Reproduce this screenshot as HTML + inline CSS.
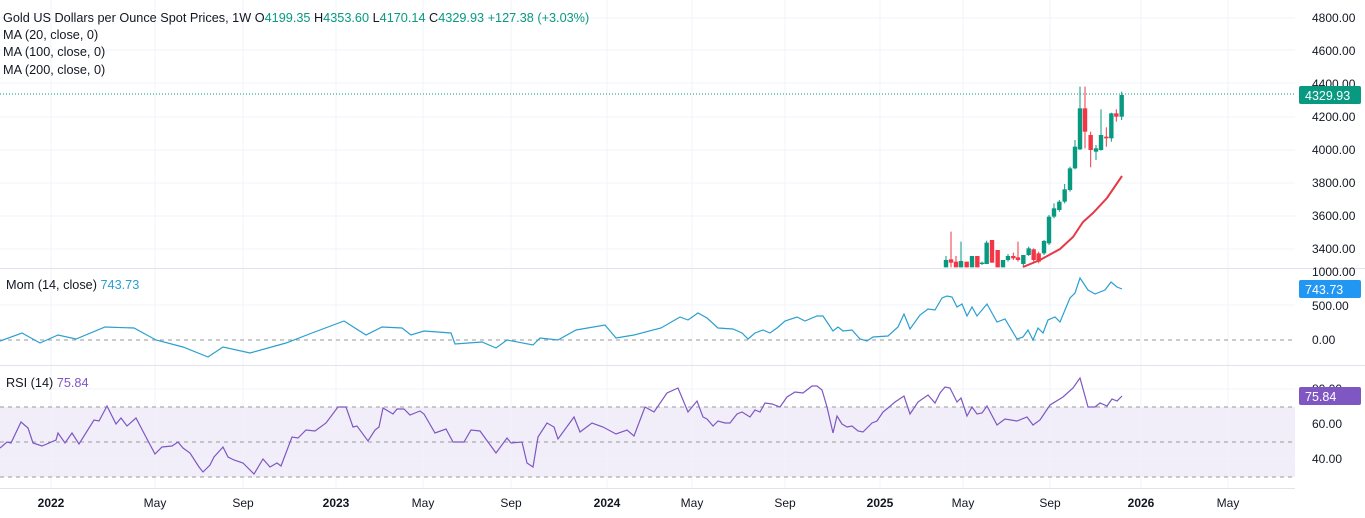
<!DOCTYPE html>
<html><head><meta charset="utf-8"><style>
body{margin:0;background:#fff;font-family:"Liberation Sans",sans-serif;}
#c{position:relative;width:1365px;height:518px;overflow:hidden;}
svg{position:absolute;left:0;top:0}
</style></head><body><div id="c">
<svg id="s" width="1365" height="518" xmlns="http://www.w3.org/2000/svg" font-family="Liberation Sans, sans-serif">
<rect x="0" y="407" width="1295" height="70" fill="#7e57c2" fill-opacity="0.1"/>
<g id="grid" stroke="#f0f3fa" stroke-width="1"></g>
<line x1="0" y1="268.5" x2="1365" y2="268.5" stroke="#e0e3eb"/>
<line x1="0" y1="365.5" x2="1365" y2="365.5" stroke="#e0e3eb"/>
<line x1="0" y1="488.5" x2="1295" y2="488.5" stroke="#e0e3eb"/>
<line x1="0" y1="94" x2="1295" y2="94" stroke="#089981" stroke-dasharray="1,2"/>
<line x1="0" y1="340" x2="1295" y2="340" stroke="#999" stroke-dasharray="4,4"/>
<line x1="0" y1="407" x2="1295" y2="407" stroke="#999" stroke-dasharray="4,4"/>
<line x1="0" y1="442" x2="1295" y2="442" stroke="#999" stroke-dasharray="4,4"/>
<line x1="0" y1="477" x2="1295" y2="477" stroke="#999" stroke-dasharray="4,4"/>
<g id="cand"></g>
<polyline fill="none" stroke="#e53945" stroke-width="2" points="1023,267 1040,260 1060,249 1073,237 1083,222 1093,213 1107,198 1122,176"/>
<polyline id="mom" fill="none" stroke="#2a9fd0" stroke-width="1.2"/>
<polyline id="rsi" fill="none" stroke="#7e57c2" stroke-width="1.2"/>
<g font-size="12" fill="#131722" text-anchor="start">
<text x="1312" y="22">4800.00</text><text x="1312" y="55">4600.00</text><text x="1312" y="88">4400.00</text>
<text x="1312" y="121">4200.00</text><text x="1312" y="154">4000.00</text><text x="1312" y="187">3800.00</text>
<text x="1312" y="220">3600.00</text><text x="1312" y="253">3400.00</text>
<text x="1312" y="276">1000.00</text><text x="1312" y="310">500.00</text><text x="1312" y="344">0.00</text>
<text x="1312" y="393">80.00</text><text x="1312" y="428">60.00</text><text x="1312" y="463">40.00</text>
</g>
<rect x="1299" y="86" width="62" height="18" rx="2" fill="#089981"/>
<text x="1305" y="100" font-size="12.5" fill="#fff">4329.93</text>
<rect x="1299" y="280" width="62" height="18" rx="2" fill="#2196f3"/>
<text x="1305" y="294" font-size="12.5" fill="#fff">743.73</text>
<rect x="1299" y="387" width="62" height="18" rx="2" fill="#7e57c2"/>
<text x="1305" y="401" font-size="12.5" fill="#fff">75.84</text>
<g font-size="12" fill="#131722" text-anchor="middle">
<text x="51" y="507" font-weight="bold">2022</text><text x="155" y="507">May</text><text x="243" y="507">Sep</text>
<text x="336" y="507" font-weight="bold">2023</text><text x="423" y="507">May</text><text x="511" y="507">Sep</text>
<text x="607" y="507" font-weight="bold">2024</text><text x="692" y="507">May</text><text x="785" y="507">Sep</text>
<text x="880" y="507" font-weight="bold">2025</text><text x="963" y="507">May</text><text x="1050" y="507">Sep</text>
<text x="1141" y="507" font-weight="bold">2026</text><text x="1228" y="507">May</text>
</g>
<g font-size="12.7" fill="#131722">
<text x="3" y="22">Gold US Dollars per Ounce Spot Prices, 1W <tspan fill="#131722">O</tspan><tspan fill="#089981">4199.35</tspan> H<tspan fill="#089981">4353.60</tspan> L<tspan fill="#089981">4170.14</tspan> C<tspan fill="#089981">4329.93</tspan> <tspan fill="#089981">+127.38 (+3.03%)</tspan></text>
<text x="3" y="39">MA (20, close, 0)</text>
<text x="3" y="56">MA (100, close, 0)</text>
<text x="3" y="74">MA (200, close, 0)</text>
<text x="6" y="289">Mom (14, close) <tspan fill="#2a9fd0">743.73</tspan></text>
<text x="6" y="387">RSI (14) <tspan fill="#7e57c2">75.84</tspan></text>
</g>
</svg>
<script>
var NS="http://www.w3.org/2000/svg";
function el(t,a,p){var e=document.createElementNS(NS,t);for(var k in a)e.setAttribute(k,a[k]);p.appendChild(e);return e;}
var g=document.getElementById("grid");
[51,155,243,336,423,511,607,692,785,880,963,1050,1141,1228].forEach(function(x){el("line",{x1:x,y1:0,x2:x,y2:488},g);});
[18,50,83,117,150,183,216,249,305,389,424,459].forEach(function(y){el("line",{x1:0,y1:y,x2:1295,y2:y},g);});
var C=[[138,540,562,528,562,1],[153,538,548,455,562,0],[168,545,562,528,562,0],[183,543,562,485,562,1],[200,545,562,545,562,0],[216,528,562,528,562,1],[232,528,562,528,562,0],[246,548,552,545,555,1],[260,488,552,482,552,1],[276,480,548,480,548,0],[293,510,562,510,562,0],[309,540,562,540,562,1],[324,528,540,522,545,1],[340,528,535,518,540,0],[354,532,540,485,545,0],[370,525,552,525,562,1],[386,505,525,500,528,1],[401,508,540,505,545,0],[416,520,545,515,550,0],[432,483,520,480,525,1],[447,410,490,405,495,1],[462,385,410,370,415,1],[478,365,390,360,395,1],[494,328,365,312,370,1],[510,265,330,260,335,1],[525,200,265,180,268,1],[540,85,208,20,210,1],[555,85,155,20,205,0],[572,165,210,155,262,0],[588,205,215,195,240,1],[603,165,210,88,212,1],[619,170,175,142,200,0],[634,100,175,98,185,1],[649,100,110,88,125,0],[665,45,110,35,120,1]];
var cg=document.getElementById("cand");
C.forEach(function(c){var x=900+c[0]/3,col=c[5]?"#089981":"#f23645";
el("line",{x1:x,y1:80+c[3]/3,x2:x,y2:Math.min(268,80+c[4]/3),stroke:col,"stroke-width":1},cg);
var t=80+c[1]/3,b=Math.min(268,80+c[2]/3);el("rect",{x:x-2.2,y:t,width:4.4,height:Math.max(1,b-t),fill:col},cg);});
var M="0,341 22,333 40,343 58,335 76,339 105,327 134,328 156,340 183,347 208,357 223,347 250,353 286,343 312,333 344,321 366,335 382,327 402,328 411,335 424,331 451,333 455,344 482,342 496,348 507,340 533,345 540,338 558,340 576,330 605,325 616,338 634,335 661,328 680,317 688,320 698,313 707,318 718,328 733,329 742,333 748,339 755,333 763,330 770,333 777,328 785,321 797,317 805,321 817,316 823,316 833,331 838,327 843,331 852,330 860,339 867,341 873,337 888,336 898,327 904,314 910,329 920,315 928,309 935,310 942,298 947,296 952,297 957,307 962,304 967,316 972,307 977,316 987,304 997,322 1005,319 1017,339 1023,337 1028,330 1033,340 1038,328 1043,333 1048,320 1055,317 1060,322 1070,298 1075,293 1080,278 1088,290 1095,294 1105,290 1111,282 1117,287 1122,289";
document.getElementById("mom").setAttribute("points",M);
var R="0,448 7,442 11,443 21,422 28,428 33,443 42,446 56,440 58,433 65,443 72,433 79,444 94,420 99,421 107,406 116,424 121,418 127,426 136,418 147,439 155,454 162,447 172,446 178,442 183,448 190,453 199,467 203,472 210,465 214,457 223,447 228,457 234,460 243,463 254,474 263,459 270,467 277,463 281,466 292,437 298,438 306,430 315,431 326,423 338,407 346,407 353,427 357,426 368,441 375,430 379,427 383,408 393,414 397,409 404,409 410,415 415,413 420,411 424,414 435,433 446,429 453,442 464,442 471,430 480,431 496,453 507,438 511,443 522,442 527,463 533,467 538,437 547,423 554,427 558,439 574,417 580,432 592,423 603,427 616,434 627,430 634,436 645,407 654,412 667,393 678,388 688,412 697,401 703,417 707,419 713,426 718,421 725,423 730,423 737,414 742,412 750,417 755,410 760,412 765,403 772,404 780,407 787,397 795,392 803,393 812,386 817,386 822,390 827,407 833,433 837,416 842,424 847,427 852,426 858,431 863,432 872,423 877,421 883,412 888,408 895,402 904,396 910,414 918,402 928,395 935,403 940,393 945,387 950,388 957,402 961,398 967,416 972,407 977,414 982,413 987,406 997,425 1005,419 1017,421 1027,417 1033,425 1040,420 1050,405 1063,397 1073,388 1080,378 1088,407 1095,407 1100,403 1107,406 1112,399 1117,401 1122,396";
document.getElementById("rsi").setAttribute("points",R);
</script>
</div></body></html>
